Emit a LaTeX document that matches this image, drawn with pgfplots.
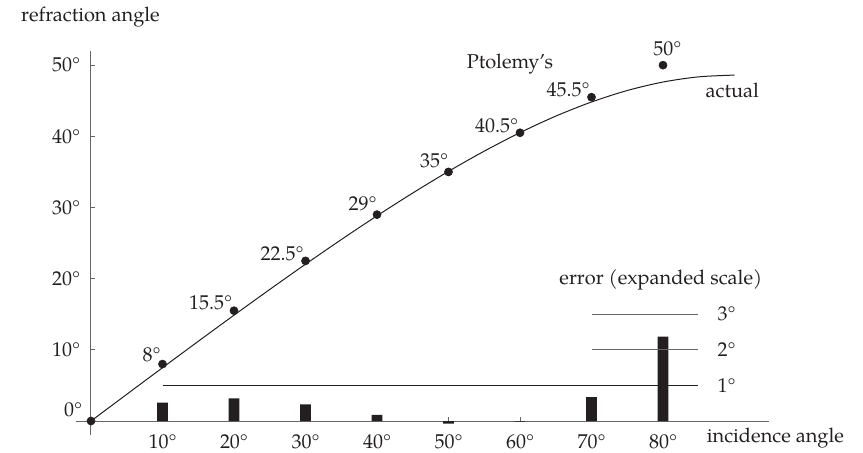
\documentclass[border=0pt]{standalone}
\usepackage{fontspec}
\setmainfont{TeX Gyre Pagella}
\usepackage{pgfplots}
\pgfplotsset{compat=1.18}
\definecolor{ink}{HTML}{231F20}
\definecolor{axisgray}{HTML}{666666}
\begin{document}
\begin{tikzpicture}[font=\fontsize{12}{14}\selectfont]
\useasboundingbox (-54.6pt,-18.6pt) rectangle (463.2pt,252.6pt);
\begin{axis}[
  anchor=origin, at={(0,0)},
  x=4.29pt, y=4.27pt,
  xmin=-2.1, xmax=94.8, ymin=-2, ymax=52,
  axis lines=middle,
  axis line style={-, draw=axisgray, line width=0.6pt},
  tick style={draw=axisgray, line width=0.6pt},
  tick align=inside, major tick length=2.6pt,
  /pgf/number format/assume math mode=true,
  xtick={10,20,...,80}, ytick={10,20,...,50},
  xticklabel={\pgfmathprintnumber{\tick}°},
  yticklabel={\pgfmathprintnumber{\tick}°},
  xticklabel style={yshift=-4.6pt, text=ink},
  yticklabel style={xshift=-3pt, text=ink},
  clip=false,
]
% actual (Snell, n = 1.333)
\addplot[ink, line width=0.6pt, smooth] coordinates {
 (0,0)(5,3.749)(10,7.485)(15,11.196)(20,14.867)(25,18.484)(30,22.030)(35,25.486)
 (40,28.830)(45,32.036)(50,35.077)(55,37.919)(60,40.518)(65,42.839)(70,44.826)
 (75,46.440)(80,47.630)(85,48.360)(90,48.606)};
% Ptolemy's table
\addplot[only marks, mark=*, mark size=2.4pt, ink] coordinates {
 (0,0)(10,8)(20,15.5)(30,22.5)(40,29)(50,35)(60,40.5)(70,45.5)(80,50)};
% error (expanded scale: 1 deg = 5 units)
\addplot[ybar, bar width=6.4pt, fill=ink, draw=none] coordinates {
 (10,2.57)(20,3.17)(30,2.35)(40,0.85)(50,-0.38)(60,-0.09)(70,3.37)(80,11.85)};
% error scale lines
\addplot[ink, line width=0.6pt] coordinates {(10,5)(84.9,5)};
\addplot[axisgray, line width=0.6pt] coordinates {(70,10)(84.9,10)};
\addplot[axisgray, line width=0.6pt] coordinates {(70,15)(84.9,15)};
% labels
\begin{scope}[every node/.style={text=ink, inner sep=0pt}]
\node[anchor=base east] at (axis cs:9.8,8.4) {8°};
\node[anchor=base east] at (axis cs:19.8,15.6) {15.5°};
\node[anchor=base east] at (axis cs:29.8,22.6) {22.5°};
\node[anchor=base east] at (axis cs:40,29.6) {29°};
\node[anchor=base east] at (axis cs:50,35.6) {35°};
\node[anchor=base east] at (axis cs:59.8,40.6) {40.5°};
\node[anchor=base east] at (axis cs:69.8,45.6) {45.5°};
\node at (axis cs:80.6,52.3) {50°};
\node[anchor=east] at (axis cs:-1.2,1.6) {0°};
\node at (axis cs:58.6,50.1) {Ptolemy’s};
\node at (axis cs:89.7,46.4) {actual};
\node at (axis cs:79.7,19.8) {error (expanded scale)};
\node[anchor=west] at (axis cs:87.6,5) {1°};
\node[anchor=west] at (axis cs:87.6,10) {2°};
\node[anchor=west] at (axis cs:87.6,15) {3°};
\node[anchor=west] at (axis cs:86.1,-2.4) {incidence angle};
\node at (axis cs:-0.07,56.8) {refraction angle};
\end{scope}
\end{axis}
\end{tikzpicture}
\end{document}
